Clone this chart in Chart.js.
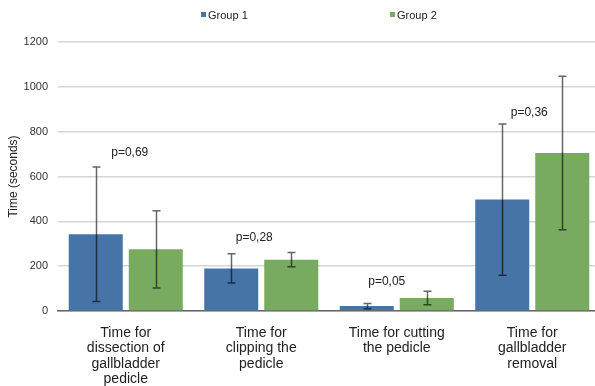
<!DOCTYPE html>
<html>
<head>
<meta charset="utf-8">
<script src="https://cdn.jsdelivr.net/npm/chart.js@4/dist/chart.umd.min.js"></script>
<style>
  html, body { margin: 0; padding: 0; background: #fff; overflow: hidden; }
  #wrap { width: 600px; height: 386px; }
</style>
</head>
<body>
<div id="wrap"><canvas id="chart"></canvas></div>
<script>
// Procedure times (seconds): means and standard deviations per group
const categories = [
  ['Time for', 'dissection of', 'gallbladder', 'pedicle'],
  ['Time for', 'clipping the', 'pedicle'],
  ['Time for cutting', 'the pedicle'],
  ['Time for', 'gallbladder', 'removal']
];
const group1Mean = [342, 190, 22, 497];
const group2Mean = [275, 229, 58, 705];
const group1Sd = [300, 65, 12, 337];
const group2Sd = [172, 32, 30, 342];
const pValues = ['0,69', '0,28', '0,05', '0,36'];
const yTicks = [0, 200, 400, 600, 800, 1000, 1200];

const BLUE = '#4674a6';
const GREEN = '#78ab60';
const FONT = '"Liberation Sans", Arial, Helvetica, sans-serif';

// Whiskers drawn at each bar's centre from mean ± sd
const errorBars = {
  id: 'errorBars',
  afterDatasetsDraw(chart) {
    const ctx = chart.ctx;
    const y = chart.scales.y;
    ctx.save();
    ctx.strokeStyle = 'rgba(0,0,0,0.6)';
    ctx.lineWidth = 1.5;
    chart.data.datasets.forEach((ds, di) => {
      const meta = chart.getDatasetMeta(di);
      meta.data.forEach((bar, i) => {
        const hi = y.getPixelForValue(ds.data[i] + ds.sd[i]);
        const lo = y.getPixelForValue(ds.data[i] - ds.sd[i]);
        const x = Math.round(bar.x) + 0.5;
        ctx.beginPath();
        ctx.moveTo(x, hi); ctx.lineTo(x, lo);
        ctx.moveTo(x - 4, hi); ctx.lineTo(x + 4, hi);
        ctx.moveTo(x - 4, lo); ctx.lineTo(x + 4, lo);
        ctx.stroke();
      });
    });
    ctx.restore();
  }
};

// p-value captions placed above the first group's whisker
const pLabels = {
  id: 'pLabels',
  afterDatasetsDraw(chart, args, opts) {
    const ctx = chart.ctx;
    const y = chart.scales.y;
    const ds = chart.data.datasets[0];
    ctx.save();
    ctx.font = '12px ' + FONT;
    ctx.fillStyle = '#222';
    ctx.textAlign = 'center';
    ctx.textBaseline = 'middle';
    pValues.forEach((p, i) => {
      const xc = chart.scales.x.getPixelForValue(i) + opts.dx[i];
      const top = y.getPixelForValue(ds.data[i] + ds.sd[i]);
      ctx.fillText('p=' + p, xc, top - opts.dy[i]);
    });
    ctx.restore();
  }
};

// Compact legend with small square swatches
const topLegend = {
  id: 'topLegend',
  afterDraw(chart, args, opts) {
    const ctx = chart.ctx;
    ctx.save();
    ctx.font = '11px ' + FONT;
    ctx.textBaseline = 'middle';
    ctx.textAlign = 'left';
    chart.data.datasets.forEach((ds, i) => {
      const x = opts.x[i];
      ctx.fillStyle = ds.backgroundColor;
      ctx.fillRect(x, opts.y - 3, 5, 5);
      ctx.fillStyle = '#222';
      ctx.fillText(ds.label, x + 7, opts.y + 1);
    });
    ctx.restore();
  }
};

new Chart(document.getElementById('chart'), {
  type: 'bar',
  data: {
    labels: categories,
    datasets: [
      { label: 'Group 1', data: group1Mean, sd: group1Sd, backgroundColor: BLUE },
      { label: 'Group 2', data: group2Mean, sd: group2Sd, backgroundColor: GREEN }
    ]
  },
  options: {
    responsive: true,
    maintainAspectRatio: false,
    animation: false,
    categoryPercentage: 0.886,
    barPercentage: 0.9,
    layout: { padding: { top: 42, left: 0, right: 0, bottom: 0 } },
    plugins: {
      legend: { display: false },
      tooltip: { enabled: false },
      topLegend: { x: [201, 390], y: 15 },
      pLabels: { dx: [4, -7, -10, -3], dy: [14, 16, 22, 11] }
    },
    scales: {
      x: {
        grid: { display: false },
        border: { display: true, color: '#666', width: 1.5 },
        ticks: {
          color: '#222',
          font: { family: FONT, size: 14, lineHeight: 1.11 },
          maxRotation: 0,
          autoSkip: false,
          padding: 6
        },
        afterFit(scale) { scale.height = 75; }
      },
      y: {
        min: 0,
        max: 1200,
        afterBuildTicks(scale) { scale.ticks = yTicks.map(v => ({ value: v })); },
        grid: { color: '#d6d6d6', lineWidth: 1.5, drawTicks: false },
        border: { display: false },
        ticks: {
          color: '#333',
          font: { family: FONT, size: 11 },
          padding: 10,
          callback: (v) => String(v)
        },
        title: {
          display: true,
          text: 'Time (seconds)',
          color: '#222',
          font: { family: FONT, size: 12 },
          padding: { top: 6, bottom: 2 }
        },
        afterFit(scale) { scale.width = 58; }
      }
    }
  },
  plugins: [errorBars, pLabels, topLegend]
});
</script>
</body>
</html>
